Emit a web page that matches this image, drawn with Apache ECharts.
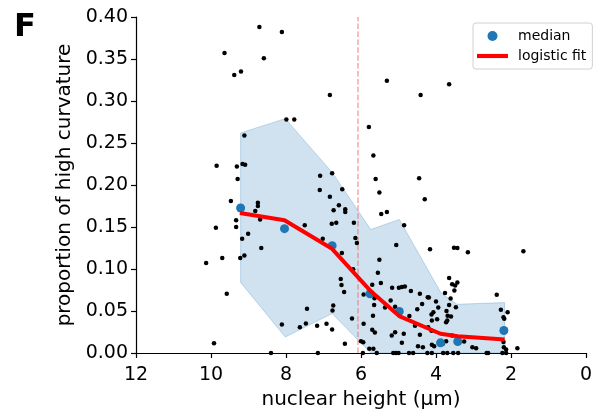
<!DOCTYPE html>
<html>
<head>
<meta charset="utf-8">
<script src="https://cdn.jsdelivr.net/npm/echarts@6/dist/echarts.min.js"></script>
<style>html,body{margin:0;padding:0;background:#fff}#c{width:598px;height:410px}</style>
</head>
<body>
<div id="c"></div>
<script>
// ---- data ----
const pointsX = [8.71,8.11,9.64,8.59,9.38,9.20,6.83,5.79,7.99,7.78,9.11,9.85,9.31,9.16,9.09,7.09,6.77,9.29,5.31,3.65,4.41,5.67,5.61,4.45,
9.47,8.75,8.75,8.82,7.10,6.83,6.50,6.59,6.73,6.42,6.42,6.78,6.66,6.19,7.50,9.33,9.33,9.87,8.69,9.01,9.17,7.02,6.15,6.11,8.66,9.11,9.22,9.70,10.13,6.51,6.21,6.54,6.52,6.45,9.58,5.93,7.44,6.74,6.76,6.24,8.11,7.63,7.47,7.17,6.92,6.77,5.93,6.00,6.43,9.92,8.40,7.15,
5.51,4.30,5.46,5.31,4.85,5.06,4.16,5.51,3.52,3.43,3.15,1.67,5.55,5.70,5.47,3.65,3.57,3.49,3.43,3.51,5.17,4.99,4.91,4.83,4.67,5.67,4.43,4.19,3.76,2.38,5.65,5.36,5.09,4.37,4.00,3.94,3.65,3.61,4.50,4.07,4.12,3.47,2.27,2.09,2.20,2.18,5.68,4.71,4.56,4.21,3.97,4.11,3.69,3.60,3.73,3.70,5.70,5.63,5.09,5.18,4.86,4.43,3.57,3.25,4.91,4.11,4.05,3.82,3.73,5.78,5.67,4.48,4.35,3.03,2.93,2.19,2.13,1.83,
5.95,5.58,5.14,5.07,5.00,4.72,4.61,4.23,4.11,3.81,3.70,3.54,3.41,2.61,2.23,2.13,2.65,
5.21,4.22,5.64,5.94,4.12,3.72,2.20];
const pointsY = [0.388,0.382,0.357,0.351,0.331,0.335,0.307,0.269,0.278,0.278,0.259,0.223,0.222,0.225,0.224,0.211,0.214,0.207,0.324,0.320,0.307,0.235,0.207,0.208,
0.181,0.179,0.175,0.169,0.194,0.186,0.195,0.176,0.170,0.171,0.168,0.154,0.155,0.155,0.152,0.158,0.150,0.149,0.159,0.142,0.136,0.136,0.137,0.131,0.125,0.116,0.113,0.113,0.107,0.119,0.0996,0.088,0.081,0.0725,0.0706,0.0697,0.0527,0.0566,0.0507,0.0411,0.034,0.0308,0.0352,0.0324,0.0348,0.028,0.0348,0.0141,0.011,0.0117,0,0,
0.191,0.183,0.1655,0.168,0.152,0.1285,0.1234,0.111,0.1254,0.125,0.120,0.121,0.0956,0.0813,0.0832,0.0892,0.0817,0.0805,0.084,0.0745,0.0777,0.0777,0.0785,0.0793,0.0737,0.0697,0.0706,0.0662,0.0713,0.0694,0.057,0.0542,0.055,0.0582,0.0614,0.0542,0.057,0.065,0.0522,0.0486,0.0459,0.0546,0.0515,0.0486,0.0427,0.0408,0.0443,0.0439,0.0324,0.0308,0.0403,0.0387,0.0443,0.0435,0.0367,0.0387,0.0277,0.0244,0.0248,0.0209,0.0229,0.0217,0.0209,0.0137,0.0122,0.0098,0.0081,0.011,0.014,0.005,0.005,0.0081,0.0069,0.0069,0.0057,0.0069,0.0042,0.0057,
0,0,0,0,0,0,0,0,0,0,0,0,0,0,0,0,0,
0.0626,0.0665,0.0653,0.0129,0.0265,0.05,0.013];

const medianX = [9.21,8.04,6.77,5.76,4.98,3.88,3.42,2.19];
const medianY = [0.1726,0.148,0.1278,0.0706,0.0495,0.0121,0.0137,0.0268];

const fitX = [9.23,8.04,6.77,5.76,4.98,3.88,3.42,2.17];
const fitY = [0.1667,0.158,0.124,0.0745,0.044,0.0229,0.020,0.016];

const bandX = [9.21,8.02,6.77,5.74,4.98,3.86,3.44,2.17];
const bandUpper = [0.262,0.279,0.215,0.147,0.159,0.071,0.058,0.060];
const bandLower = [0.084,0.019,0.047,0.0,0.0,0.0,0.0,0.0];

const thresholdX = 6.1;
const xTicks = [0,2,4,6,8,10,12];
const yTicks = [0,0.05,0.10,0.15,0.20,0.25,0.30,0.35,0.40];

// ---- chart ----
const FONT = 'DejaVu Sans';
const chart = echarts.init(document.getElementById('c'), null, {renderer:'canvas'});
chart.setOption({
  animation:false,
  backgroundColor:'#fff',
  textStyle:{fontFamily:FONT},
  title:{text:'F', left:9, top:7, textStyle:{fontFamily:FONT, fontSize:32, fontWeight:'bold', color:'#000'}},
  grid:{left:136, right:12, top:17, bottom:57, containLabel:false, outerBoundsMode:'none'},
  legend:{
    orient:'vertical', left:473, top:23,
    padding:[6,6,6,4], itemGap:6, itemWidth:31, itemHeight:10,
    backgroundColor:'rgba(255,255,255,0.8)', borderColor:'#d0d0d0', borderWidth:1, borderRadius:3,
    textStyle:{fontFamily:FONT, fontSize:14, color:'#000', padding:[0,0,0,5]},
    data:[{name:'median', icon:'circle', itemStyle:{opacity:1}}, {name:'logistic fit', icon:'path://M0,0L30,0L30,4L0,4Z'}]
  },
  xAxis:{
    type:'value', min:xTicks[0], max:xTicks[xTicks.length-1], interval:2, inverse:true,
    name:'nuclear height (µm)', nameLocation:'middle', nameGap:36,
    nameTextStyle:{fontFamily:FONT, fontSize:20, color:'#000'},
    axisLine:{show:true, onZero:false, lineStyle:{color:'#000', width:1.2}},
    axisTick:{show:true, length:5, lineStyle:{color:'#000', width:1.2}},
    axisLabel:{fontFamily:FONT, fontSize:19, color:'#000', margin:13},
    splitLine:{show:false}
  },
  yAxis:{
    type:'value', min:yTicks[0], max:yTicks[yTicks.length-1], interval:0.05,
    name:'proportion of high curvature', nameLocation:'middle', nameGap:55,
    nameTextStyle:{fontFamily:FONT, fontSize:20, color:'#000'},
    axisLine:{show:true, onZero:false, lineStyle:{color:'#000', width:1.2}},
    axisTick:{show:true, length:5, lineStyle:{color:'#000', width:1.2}},
    axisLabel:{fontFamily:FONT, fontSize:19, color:'#000', margin:8, formatter:v=>v.toFixed(2)},
    splitLine:{show:false}
  },
  series:[
    {
      type:'custom', name:'band', z:1, silent:true,
      data: bandX.map((x,i)=>[x, bandLower[i], bandUpper[i]]),
      encode:{x:0, y:[1,2]},
      renderItem:(params, api)=>{
        if (params.dataIndex !== 0) return;
        const pts = [];
        for (let i=0;i<bandX.length;i++) pts.push(api.coord([bandX[i], bandUpper[i]]));
        for (let i=bandX.length-1;i>=0;i--) pts.push(api.coord([bandX[i], bandLower[i]]));
        return {type:'polygon', shape:{points:pts}, style:{fill:'rgba(31,119,180,0.21)', stroke:'rgba(31,119,180,0.25)', lineWidth:1}};
      }
    },
    {
      type:'scatter', name:'points', z:3, symbolSize:4.5, clip:false,
      itemStyle:{color:'#000', opacity:1},
      data: pointsX.map((x,i)=>[x, pointsY[i]]),
      markLine:{
        silent:true, symbol:'none', label:{show:false}, z:2,
        lineStyle:{color:'rgba(240,110,110,0.6)', type:[5.5,2.4], width:1.5},
        data:[{xAxis:thresholdX}]
      }
    },
    {
      type:'scatter', name:'median', z:4, symbolSize:9,
      itemStyle:{color:'#1f77b4', opacity:1},
      data: medianX.map((x,i)=>[x, medianY[i]])
    },
    {
      type:'line', name:'logistic fit', z:5, symbol:'none',
      lineStyle:{color:'#ff0000', width:4},
      itemStyle:{color:'#ff0000'},
      data: fitX.map((x,i)=>[x, fitY[i]])
    }
  ]
});
</script>
</body>
</html>
